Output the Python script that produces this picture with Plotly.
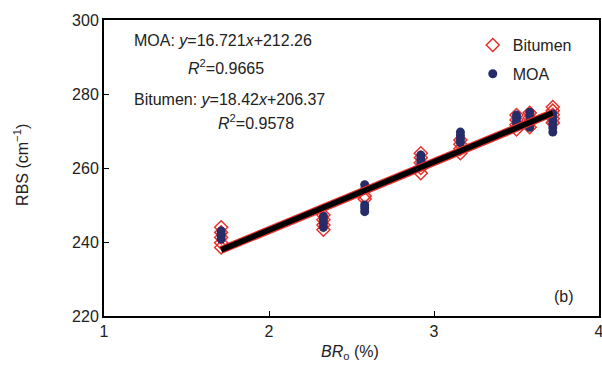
import plotly.graph_objects as go

# ---- data ----
br_bitumen = [1.71]*5 + [2.33]*4 + [2.58]*2 + [2.92]*5 + [3.16]*4 + [3.50]*4 + [3.58]*4 + [3.72]*5
rbs_bitumen = [238.5, 239.8, 241.2, 242.6, 244.0,
               243.3, 244.6, 246.0, 247.3,
               251.6, 252.4,
               258.6, 260.0, 261.4, 262.8, 264.0,
               264.0, 265.2, 266.4, 267.6,
               270.4, 271.7, 273.0, 274.3,
               271.0, 272.3, 273.6, 274.9,
               272.2, 273.3, 274.4, 275.5, 276.5]

br_moa = [1.71]*4 + [2.33]*4 + [2.58]*5 + [2.92]*4 + [3.16]*4 + [3.50]*4 + [3.58]*4 + [3.72]*5
rbs_moa = [240.8, 241.6, 242.3, 243.0,
           244.0, 245.0, 246.0, 247.0,
           248.2, 249.2, 250.0, 254.3, 255.5,
           260.3, 261.4, 262.5, 263.5,
           266.8, 267.8, 268.8, 269.7,
           271.6, 272.6, 273.5, 274.3,
           271.0, 272.4, 273.8, 275.1,
           269.7, 270.9, 272.1, 273.3, 274.6]

fit_x = [1.71, 3.72]
bit_slope, bit_icpt = 18.42, 206.37
moa_slope, moa_icpt = 16.721, 212.26

x_ticks = [1, 2, 3, 4]
y_ticks = [220, 240, 260, 280, 300]

FONT = "Liberation Sans, Arial, sans-serif"
TXT = "#222222"
RED = "#e8302a"
NAVY = "#262c68"

fig = go.Figure()

fig.add_trace(go.Scatter(
    x=br_bitumen, y=rbs_bitumen, mode="markers", name="Bitumen",
    marker=dict(symbol="diamond-open", size=10, color=RED, line=dict(width=1.5, color=RED)),
    legend="legend"))
fig.add_trace(go.Scatter(
    x=br_moa, y=rbs_moa, mode="markers", name="MOA",
    marker=dict(symbol="circle", size=9, color=NAVY, line=dict(width=0)),
    legend="legend2"))

fit_bit = [bit_slope*v + bit_icpt for v in fit_x]
fig.add_trace(go.Scatter(x=fit_x, y=fit_bit, mode="lines", showlegend=False,
                         line=dict(color=RED, width=8)))
fig.add_trace(go.Scatter(x=fit_x, y=fit_bit, mode="lines", showlegend=False,
                         line=dict(color="black", width=5.5)))

ann_font = dict(family=FONT, size=16, color=TXT)
annotations = [
    dict(x=1.17, y=294.4, text="MOA: <i>y</i>=16.721<i>x</i>+212.26", xanchor="left"),
    dict(x=1.74, y=287.3, text="<i>R</i><sup>2</sup>=0.9665", xanchor="center"),
    dict(x=1.17, y=278.6, text="Bitumen: <i>y</i>=18.42<i>x</i>+206.37", xanchor="left"),
    dict(x=1.92, y=272.5, text="<i>R</i><sup>2</sup>=0.9578", xanchor="center"),
    dict(x=3.79, y=225.2, text="(b)", xanchor="center"),
]
for a in annotations:
    a.update(xref="x", yref="y", showarrow=False, yanchor="middle", font=ann_font)

# axis titles as paper-anchored annotations for precise placement
annotations.append(dict(xref="paper", yref="paper", x=0.497, y=-0.122,
                        text="<i>BR</i><sub>o</sub> (%)", showarrow=False,
                        xanchor="center", yanchor="middle", font=ann_font))
annotations.append(dict(xref="paper", yref="paper", x=-0.168, y=0.51,
                        text="RBS (cm<sup>−1</sup>)", showarrow=False, textangle=-90,
                        xanchor="center", yanchor="middle", font=ann_font))

axis_common = dict(showline=True, linecolor="black", linewidth=2, mirror=True,
                   ticks="inside", ticklen=5, tickcolor="black", tickwidth=1,
                   showgrid=False, zeroline=False, automargin=False,
                   ticklabeloverflow="allow",
                   tickfont=dict(family=FONT, size=16, color=TXT))

fig.update_layout(
    width=602, height=369,
    margin=dict(l=104, r=3, t=20, b=53),
    paper_bgcolor="white", plot_bgcolor="white",
    annotations=annotations,
    xaxis=dict(range=[1, 4], tickvals=x_ticks, ticktext=[str(v) for v in x_ticks],
               **axis_common),
    yaxis=dict(range=[220, 300], tickvals=y_ticks, ticktext=[str(v) for v in y_ticks],
               **axis_common),
    legend=dict(x=0.745, y=0.915, xanchor="left", yanchor="middle", bgcolor="rgba(0,0,0,0)",
                font=dict(family=FONT, size=16, color=TXT), itemwidth=30),
    legend2=dict(x=0.745, y=0.818, xanchor="left", yanchor="middle", bgcolor="rgba(0,0,0,0)",
                 font=dict(family=FONT, size=16, color=TXT), itemwidth=30),
)

# remove the browser's default page margin so the 602x369 figure fills the window exactly
fig.write_html("out.html",
               config={"displayModeBar": False},
               post_script="document.body.style.margin='0';document.body.style.overflow='hidden';")
